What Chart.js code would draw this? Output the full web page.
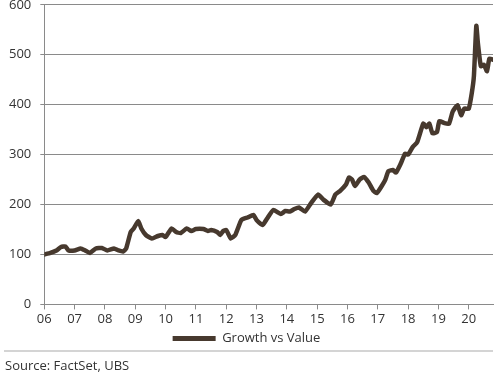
<!DOCTYPE html>
<html>
<head>
<meta charset="utf-8">
<script src="https://cdn.jsdelivr.net/npm/chart.js@4/dist/chart.umd.min.js"></script>
<style>
  body { margin: 0; background: #fff; font-family: "Open Sans", sans-serif; }
  #wrap { position: relative; width: 501px; height: 375px; overflow: hidden; }
  #chart { position: absolute; left: 0; top: -12px; }
  #rule { position: absolute; left: 4px; top: 350px; width: 489px; height: 2px; background: #d4d4d4; }
  #source { position: absolute; left: 5px; top: 356px; font-size: 13px; color: #333; }
</style>
</head>
<body>
<div id="wrap">
  <canvas id="chart" width="501" height="367"></canvas>
  <div id="rule"></div>
  <div id="source">Source: FactSet, UBS</div>
</div>
<script>
const seriesName = 'Growth vs Value';
const lineColor = '#47392e';

// time as decimal years
const years = [
  2006.0, 2006.2, 2006.4, 2006.55, 2006.7, 2006.8, 2007.0, 2007.2, 2007.35, 2007.5,
  2007.7, 2007.9, 2008.08, 2008.3, 2008.45, 2008.6, 2008.7, 2008.85, 2008.95, 2009.1,
  2009.2, 2009.35, 2009.55, 2009.75, 2009.9, 2010.0, 2010.2, 2010.35, 2010.5, 2010.7,
  2010.85, 2011.0, 2011.25, 2011.4, 2011.5, 2011.7, 2011.8, 2011.9, 2012.0, 2012.15,
  2012.3, 2012.5, 2012.7, 2012.9, 2013.0, 2013.2, 2013.35, 2013.55, 2013.8, 2013.95,
  2014.1, 2014.25, 2014.4, 2014.6, 2014.8, 2015.03, 2015.2, 2015.45, 2015.6, 2015.75,
  2015.95, 2016.05, 2016.15, 2016.25, 2016.4, 2016.55, 2016.7, 2016.85, 2016.97, 2017.13,
  2017.25, 2017.35, 2017.5, 2017.6, 2017.75, 2017.9, 2018.0, 2018.15, 2018.3, 2018.5,
  2018.6, 2018.7, 2018.8, 2018.95, 2019.03, 2019.2, 2019.35, 2019.47, 2019.63, 2019.75,
  2019.85, 2020.0, 2020.1, 2020.17, 2020.25, 2020.3, 2020.4, 2020.5, 2020.6, 2020.68,
  2020.8
];

const values = [
  100, 103, 108, 115, 116, 108, 108, 112, 108, 103,
  112, 113, 108, 112, 108, 106, 112, 145, 152, 167,
  152, 139, 132, 137, 139, 135, 152, 145, 143, 152,
  147, 151, 151, 147, 149, 145, 139, 147, 149, 132,
  139, 169, 174, 179, 169, 159, 172, 189, 181, 187,
  186, 191, 194, 186, 203, 220, 210, 200, 220, 227,
  240, 254, 250, 237, 250, 255, 244, 228, 223, 237,
  250, 267, 269, 264, 281, 302, 300, 315, 325, 362,
  355, 362, 343, 345, 367, 363, 362, 386, 399, 379,
  392, 392, 423, 457, 558, 524, 477, 480, 467, 492,
  490
];

const xTicks = [2006, 2007, 2008, 2009, 2010, 2011, 2012, 2013, 2014, 2015, 2016, 2017, 2018, 2019, 2020];
const yTicks = [0, 100, 200, 300, 400, 500, 600];

const points = years.map((x, i) => ({ x: x, y: values[i] }));

new Chart(document.getElementById('chart'), {
  type: 'line',
  data: {
    datasets: [{
      label: seriesName,
      data: points,
      borderColor: lineColor,
      backgroundColor: lineColor,
      borderWidth: 4.5,
      pointRadius: 0,
      tension: 0.15,
      borderJoinStyle: 'round',
      borderCapStyle: 'round'
    }]
  },
  options: {
    responsive: false,
    animation: false,
    layout: { padding: { left: 0, right: 8, top: 0, bottom: 0 } },
    plugins: {
      tooltip: { enabled: false },
      legend: {
        position: 'bottom',
        labels: {
          color: '#333',
          font: { family: 'Open Sans', size: 13 },
          boxWidth: 43,
          boxHeight: 5,
          padding: 3,
          generateLabels(chart) {
            const items = Chart.defaults.plugins.legend.labels.generateLabels(chart);
            items.forEach(it => { it.lineWidth = 0; it.fillStyle = lineColor; });
            return items;
          }
        }
      }
    },
    scales: {
      x: {
        type: 'linear',
        min: 2006,
        max: 2020.8,
        border: { color: '#8a8a8a', width: 1 },
        grid: { drawOnChartArea: false, drawTicks: true, tickLength: 5, color: '#8a8a8a' },
        afterBuildTicks(axis) {
          axis.ticks = xTicks.map(v => ({ value: v }));
        },
        ticks: {
          color: '#333',
          font: { family: 'Open Sans', size: 13 },
          padding: 2,
          maxRotation: 0,
          autoSkip: false,
          callback: v => String(v % 100).padStart(2, '0')
        }
      },
      y: {
        min: 0,
        max: 600,
        border: { color: '#8a8a8a', width: 1 },
        grid: { color: '#8a8a8a', tickLength: 4 },
        afterBuildTicks(axis) {
          axis.ticks = yTicks.map(v => ({ value: v }));
        },
        ticks: {
          color: '#333',
          font: { family: 'Open Sans', size: 13 },
          padding: 9
        }
      }
    }
  }
});
</script>
</body>
</html>
